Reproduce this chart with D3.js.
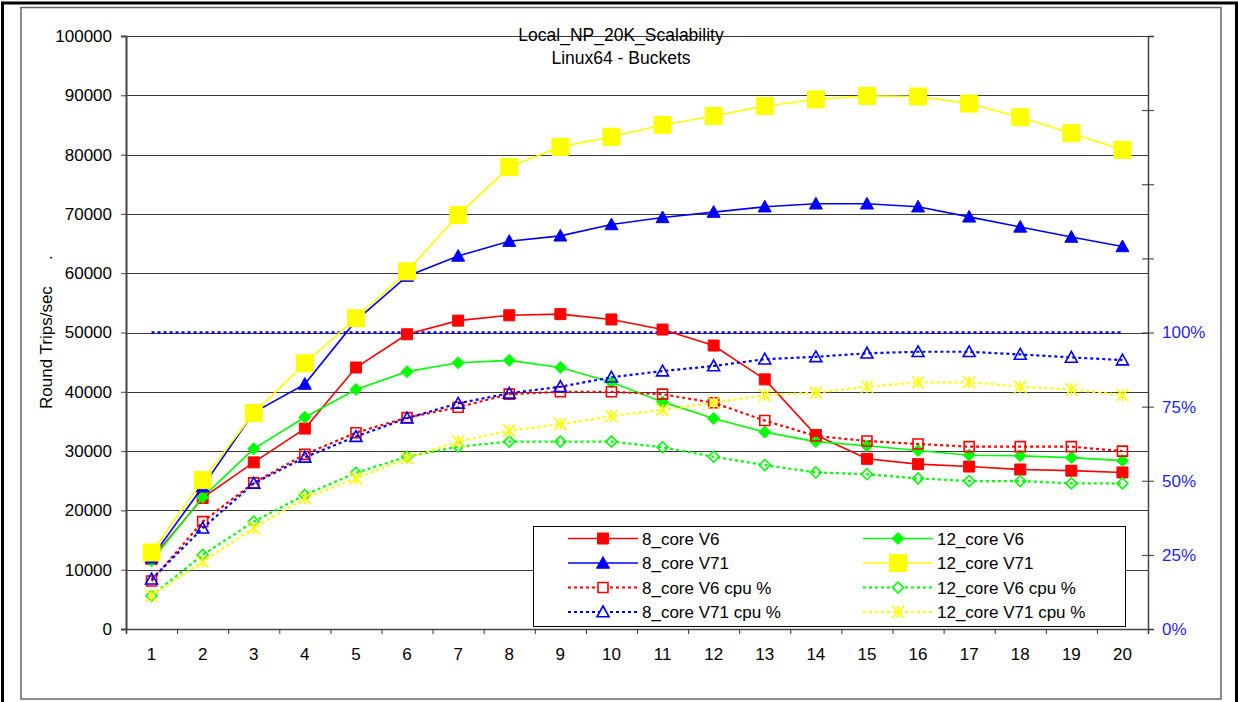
<!DOCTYPE html>
<html>
<head>
<meta charset="utf-8">
<script src="https://cdn.jsdelivr.net/npm/d3@7/dist/d3.min.js"></script>
<style>
body { margin: 0; background: #fff; }
text { font-family: "Liberation Sans", Arial, sans-serif; }
</style>
</head>
<body>
<svg id="chart" width="1238" height="702"></svg>
<script>
// x categories: number of client threads
var cats = ["1","2","3","4","5","6","7","8","9","10","11","12","13","14","15","16","17","18","19","20"];

// round trips / sec (left axis)
var v6_8core   = [11800,22100,28100,33800,44100,49700,52000,52900,53100,52200,50500,47800,42100,32700,28700,27800,27400,26900,26700,26400];
var v6_12core  = [11500,22200,30400,35700,40400,43400,44900,45300,44100,41600,38300,35500,33200,31600,30900,30100,29300,29200,28900,28400];
var v71_8core  = [12000,24000,36500,41300,52000,59500,62900,65400,66300,68200,69400,70300,71200,71700,71700,71200,69500,67800,66100,64500];
var v71_12core = [12900,25100,36400,44800,52400,60300,69800,77900,81300,83000,85000,86500,88200,89300,89900,89800,88600,86300,83600,80800];

// cpu % (right axis)
var cpu_v6_8core   = [16.2,36.2,49.3,58.9,66.2,71.3,74.8,79.2,80.0,80.0,79.2,76.3,70.3,65.1,63.4,62.4,61.5,61.5,61.5,60.0];
var cpu_v6_12core  = [11.2,25.0,36.2,45.2,52.7,58.1,61.5,63.2,63.2,63.2,61.3,58.1,55.3,52.8,52.2,50.8,49.9,49.9,49.1,49.1];
var cpu_v71_8core  = [16.8,34.0,49.1,57.9,64.9,71.1,76.1,79.5,81.7,84.9,87.0,88.7,91.0,91.8,93.0,93.5,93.5,92.6,91.6,90.7];
var cpu_v71_12core = [11.2,22.7,34.0,44.1,50.8,57.6,63.2,66.9,69.1,71.8,73.9,76.3,78.9,79.7,81.7,83.2,83.2,81.7,80.8,78.9];
var cpu_full       = [100,100,100,100,100,100,100,100,100,100,100,100,100,100,100,100,100,100,100,100];

var yTicks  = [0,10000,20000,30000,40000,50000,60000,70000,80000,90000,100000];
var y2Ticks = [0,25,50,75,100,125,150,175,200];

var titleLines = ["Local_NP_20K_Scalability", "Linux64 - Buckets"];

var svg = d3.select("#chart");
var FONT = "'Liberation Sans', Arial, sans-serif";

// frame
svg.append("rect").attr("x", 2.5).attr("y", 3).attr("width", 1234).attr("height", 710)
	.attr("fill", "none").attr("stroke", "#000").attr("stroke-width", 3);
svg.append("rect").attr("x", 21).attr("y", 7.5).attr("width", 1200).attr("height", 691.5)
	.attr("fill", "none").attr("stroke", "#666").attr("stroke-width", 1.5);

var pLeft = 126, pRight = 1148, pTop = 36, pBottom = 629;

var x = d3.scaleBand().domain(cats).range([pLeft, pRight]);
var xEdge = d3.scaleLinear().domain([0, cats.length]).range([pLeft, pRight]);
var y = d3.scaleLinear().domain([0, 100000]).range([pBottom, pTop]);
var y2 = d3.scaleLinear().domain([0, 200]).range([pBottom, pTop]);

function cx(d, i) { return x(cats[i]) + x.bandwidth() / 2; }

// gridlines
svg.append("g").selectAll("line").data(yTicks).enter().append("line")
	.attr("x1", pLeft).attr("x2", pRight)
	.attr("y1", function(d) { return Math.round(y(d)) + 0.5; })
	.attr("y2", function(d) { return Math.round(y(d)) + 0.5; })
	.attr("stroke", "#3a3a3a").attr("stroke-width", 1);

// title
svg.append("g").selectAll("text").data(titleLines).enter().append("text")
	.attr("x", 621).attr("y", function(d, i) { return 41 + i * 22.5; })
	.attr("text-anchor", "middle").attr("font-size", 17.5).attr("fill", "#000")
	.text(function(d) { return d; });

// y label
var ylab = svg.append("text").attr("transform", "translate(52,409) rotate(-90)")
	.attr("font-size", 17).attr("fill", "#000");
ylab.append("tspan").text("Round Trips/sec");
ylab.append("tspan").attr("x", 149).text(".");

// left axis
var gl = svg.append("g").attr("transform", "translate(" + pLeft + ",0)")
	.call(d3.axisLeft(y).tickValues(yTicks).tickSize(5).tickPadding(9).tickFormat(d3.format("d")));
gl.selectAll("text").attr("font-size", 17).attr("fill", "#000").style("font-family", FONT);
gl.select(".domain").attr("stroke", "#444").attr("stroke-width", 2);
gl.selectAll(".tick line").attr("stroke", "#444");

// right axis
var gr = svg.append("g").attr("transform", "translate(" + pRight + ",0)")
	.call(d3.axisRight(y2).tickValues(y2Ticks).tickSize(6).tickPadding(8)
		.tickFormat(function(d) { return d <= 100 ? d + "%" : ""; }));
gr.selectAll("text").attr("font-size", 17).attr("fill", "#1f1fff").style("font-family", FONT);
gr.selectAll(".tick line").attr("x1", -6).attr("x2", 6).attr("stroke", "#333");
gr.select(".domain").attr("stroke", "#444").attr("stroke-width", 1.5);

// bottom axis: ticks between categories
var gb = svg.append("g").attr("transform", "translate(0," + pBottom + ")")
	.call(d3.axisBottom(xEdge).ticks(cats.length).tickSize(5).tickFormat(""));
gb.select(".domain").attr("stroke", "#444").attr("stroke-width", 1.5);
gb.selectAll(".tick line").attr("stroke", "#333");
var gbl = svg.append("g").attr("transform", "translate(0," + pBottom + ")")
	.call(d3.axisBottom(x).tickSize(0).tickPadding(19));
gbl.select(".domain").remove();
gbl.selectAll("text").attr("font-size", 17).attr("fill", "#000").style("font-family", FONT);

// markers
function marker(type, s) {
	switch (type) {
	case "square": return "M" + (-s) + "," + (-s) + "h" + 2 * s + "v" + 2 * s + "h" + (-2 * s) + "Z";
	case "diamond": return "M0," + (-s) + "L" + s + ",0L0," + s + "L" + (-s) + ",0Z";
	case "triangle": return "M0," + (-s) + "L" + s + "," + (s * 0.8) + "L" + (-s) + "," + (s * 0.8) + "Z";
	case "star": return "M0," + (-s) + "V" + s + "M" + (-s) + "," + (-s) + "L" + s + "," + s + "M" + s + "," + (-s) + "L" + (-s) + "," + s;
	}
	return "";
}

var series = [
	{ name: "8_core V6",  values: v6_8core,  axis: y, color: "#ff0000", dash: null, m: "square", s: 5.5, fill: true },
	{ name: "12_core V6", values: v6_12core, axis: y, color: "#00ff00", dash: null, m: "diamond", s: 6, fill: true },
	{ name: "8_core V71", values: v71_8core, axis: y, color: "#0000ff", dash: null, m: "triangle", s: 6.5, fill: true },
	{ name: "12_core V71", values: v71_12core, axis: y, color: "#ffff00", dash: null, m: "square", s: 8.5, fill: true },
	{ name: "8_core V6 cpu %", values: cpu_v6_8core, axis: y2, color: "#ff0000", dash: "3,3", m: "square", s: 5, fill: false },
	{ name: "12_core V6 cpu %", values: cpu_v6_12core, axis: y2, color: "#00ff00", dash: "3,3", m: "diamond", s: 5.5, fill: false },
	{ name: "8_core V71 cpu %", values: cpu_v71_8core, axis: y2, color: "#0000ff", dash: "3,3", m: "triangle", s: 6, fill: false },
	{ name: "12_core V71 cpu %", values: cpu_v71_12core, axis: y2, color: "#ffff00", dash: "3,3", m: "star", s: 6, fill: false }
];

// 100% cpu reference line, drawn under the others
svg.append("path").datum(cpu_full)
	.attr("d", d3.line().x(cx).y(function(d) { return y2(d); }))
	.attr("fill", "none").attr("stroke", "#0000ff").attr("stroke-width", 2.5)
	.attr("stroke-dasharray", "3,3");

series.forEach(function(sr) {
	var g = svg.append("g");
	g.append("path").datum(sr.values)
		.attr("d", d3.line().x(cx).y(function(d) { return sr.axis(d); }))
		.attr("fill", "none").attr("stroke", sr.color)
		.attr("stroke-width", sr.dash ? 2.2 : 1.6)
		.attr("stroke-dasharray", sr.dash);
	g.selectAll("path.mk").data(sr.values).enter().append("path").attr("class", "mk")
		.attr("transform", function(d, i) { return "translate(" + cx(d, i) + "," + sr.axis(d) + ")"; })
		.attr("d", marker(sr.m, sr.s))
		.attr("fill", sr.fill ? sr.color : "none")
		.attr("stroke", sr.color).attr("stroke-width", sr.fill ? 1 : 1.6);
});

// legend
var lg = svg.append("g");
lg.append("rect").attr("x", 533.5).attr("y", 526.5).attr("width", 592).attr("height", 100)
	.attr("fill", "#fff").attr("stroke", "#000").attr("stroke-width", 1);
var colX = [568, 863], rowY = [538.5, 563, 587.5, 612];
var li = lg.selectAll("g.item").data(series).enter().append("g").attr("class", "item")
	.attr("transform", function(d, i) { return "translate(" + colX[i % 2] + "," + rowY[Math.floor(i / 2)] + ")"; });
li.append("line").attr("x1", 0).attr("x2", 70)
	.attr("stroke", function(d) { return d.color; })
	.attr("stroke-width", function(d) { return d.dash ? 2.2 : 1.6; })
	.attr("stroke-dasharray", function(d) { return d.dash; });
li.append("path").attr("transform", "translate(35,0)")
	.attr("d", function(d) { return marker(d.m, d.s); })
	.attr("fill", function(d) { return d.fill ? d.color : "#fff"; })
	.attr("stroke", function(d) { return d.color; })
	.attr("stroke-width", function(d) { return d.fill ? 1 : 1.6; });
li.append("text").attr("x", 74).attr("y", 6).attr("font-size", 17).attr("fill", "#000")
	.text(function(d) { return d.name; });
</script>
</body>
</html>
